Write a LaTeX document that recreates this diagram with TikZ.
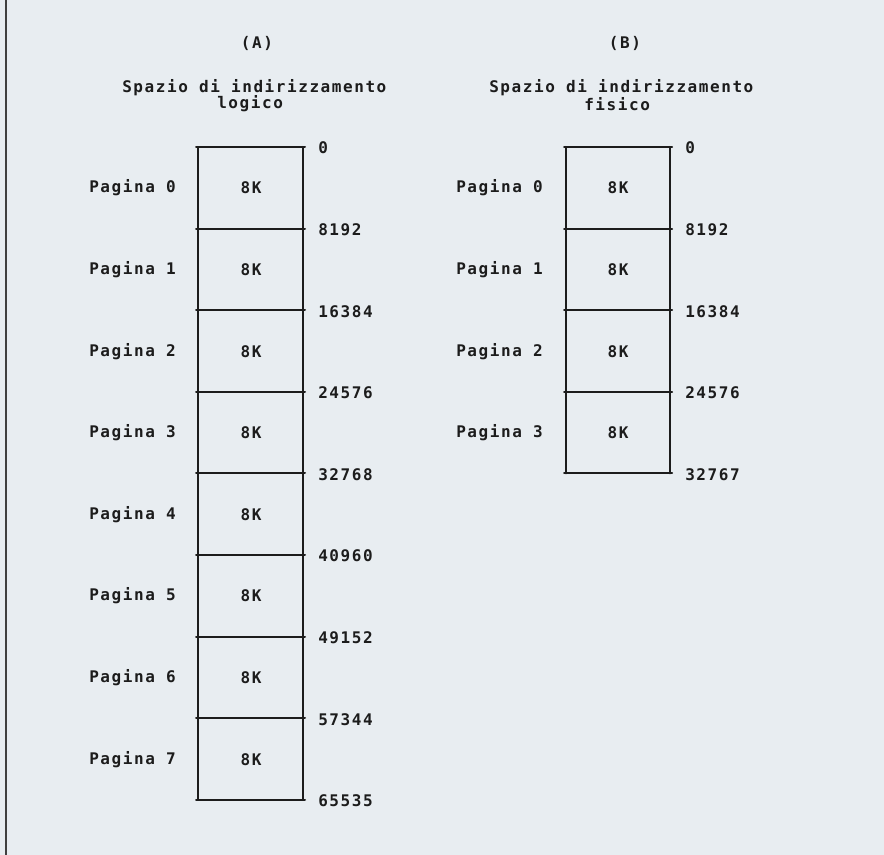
\documentclass[tikz,border=0pt]{standalone}
\usepackage{fontspec}
\newfontfamily\plotfont[LetterSpace=9.8]{DejaVu Sans Mono}
\definecolor{paper}{HTML}{E8EDF1}
\definecolor{ink}{HTML}{1C1C1C}
\begin{document}
\begin{tikzpicture}[x=0.75pt,y=-0.75pt,
  lbl/.style={font=\plotfont\bfseries\fontsize{12}{14}\selectfont, text=ink, inner sep=0pt},
  boxline/.style={draw=ink, line width=1.5pt, line cap=round}]
\fill[paper] (0,0) rectangle (884,855);
\useasboundingbox (0,0) rectangle (884,855);
\draw[draw=black!75, line width=1.6pt] (6,0) -- (6,855);

% ---------- (A) logical space ----------
\node[lbl] (tA) at (257,43) {(A)};
\node[lbl, anchor=west] (hA1) at (122,88) {Spazio di indirizzamento};
\node[lbl, anchor=west] (hA2) at (217,104) {logico};
\foreach \i in {0,...,8}{
  \coordinate (aL\i) at (196,{147+81.6*\i});
  \coordinate (aR\i) at (305,{147+81.6*\i});
  \coordinate (aV\i) at (198,{147+81.6*\i});
  \coordinate (aW\i) at (303,{147+81.6*\i});
  \draw[boxline] (aL\i) -- (aR\i);
}
\draw[boxline] (aV0) -- (aV8);
\draw[boxline] (aW0) -- (aW8);
\foreach \i/\v in {0/0,1/8192,2/16384,3/24576,4/32768,5/40960,6/49152,7/57344,8/65535}{
  \node[lbl, anchor=west] (aN\i) at (318,{148+81.6*\i}) {\v};
}
\foreach \i in {0,...,7}{
  \node[lbl, anchor=west] (aP\i) at (89,{188+81.6*\i}) {Pagina \i};
  \node[lbl] (aK\i) at (251,{188+81.6*\i}) {8K};
}

% ---------- (B) physical space ----------
\node[lbl] (tB) at (625,43) {(B)};
\node[lbl, anchor=west] (hB1) at (489,88) {Spazio di indirizzamento};
\node[lbl, anchor=west] (hB2) at (584,104) {fisico};
\foreach \i in {0,...,4}{
  \coordinate (bL\i) at (564,{147+81.6*\i});
  \coordinate (bR\i) at (672,{147+81.6*\i});
  \coordinate (bV\i) at (566,{147+81.6*\i});
  \coordinate (bW\i) at (670,{147+81.6*\i});
  \draw[boxline] (bL\i) -- (bR\i);
}
\draw[boxline] (bV0) -- (bV4);
\draw[boxline] (bW0) -- (bW4);
\foreach \i/\v in {0/0,1/8192,2/16384,3/24576,4/32767}{
  \node[lbl, anchor=west] (bN\i) at (685,{148+81.6*\i}) {\v};
}
\foreach \i in {0,...,3}{
  \node[lbl, anchor=west] (bP\i) at (456,{188+81.6*\i}) {Pagina \i};
  \node[lbl] (bK\i) at (618,{188+81.6*\i}) {8K};
}
\end{tikzpicture}
\end{document}
